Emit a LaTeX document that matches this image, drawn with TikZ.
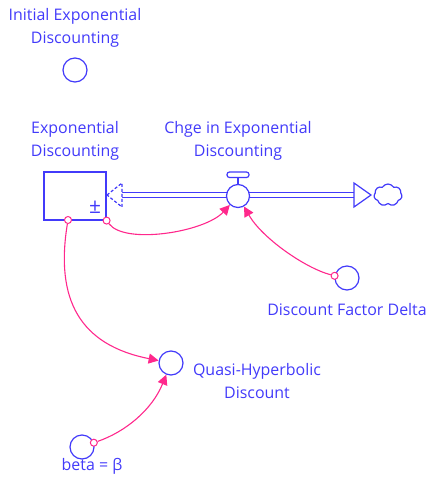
\documentclass[tikz,border=0pt]{standalone}
\usepackage{fontspec}
\setmainfont{Open Sans}
\usetikzlibrary{arrows.meta,shapes.symbols}
\definecolor{sfblue}{RGB}{66,58,250}
\definecolor{linkpink}{RGB}{255,40,140}
\begin{document}
\begin{tikzpicture}[x=1bp,y=-1bp,
  font=\fontsize{16}{23.5}\selectfont,
  aux/.style={circle, draw=sfblue, line width=1.2bp, minimum size=24bp, inner sep=0pt, fill=white},
  lbl/.style={text=sfblue, align=center, inner sep=0pt},
  dot/.style={circle, draw=linkpink, fill=white, line width=1bp, minimum size=7bp, inner sep=0pt},
  link/.style={draw=linkpink, line width=1.1bp, -{Triangle[length=10bp,width=10bp]}},
  pipe/.style={draw=sfblue, double=white, double distance=4.5bp, line width=1.2bp},
  flowtip/.style={draw=sfblue, line width=1.2bp, fill=white, line join=miter}
]
\useasboundingbox (0,0) rectangle (430,490);

% stock
\node[draw=sfblue, line width=1.2bp, minimum width=62bp, minimum height=48bp, inner sep=0pt] (stock) at (75,196) {};
\node[lbl, font=\fontsize{21}{21}\selectfont] (pm) at (95,207) {±};

% flow pipe with inflow tip into the stock and outflow to the cloud
\coordinate (pin) at (122,195);
\coordinate (pout) at (354,195);
\draw[pipe] (pin) -- (pout);
\draw[flowtip, dash pattern=on 3bp off 2bp] (107,195) -- (pin |- 0,183) -- (pin |- 0,207) -- cycle;
\draw[flowtip] (pout |- 0,183) -- (371,195) -- (pout |- 0,207) -- cycle;
\node[cloud, cloud puffs=7, cloud puff arc=120, aspect=1.25, draw=sfblue, line width=1.2bp,
      minimum width=28bp, minimum height=22bp, inner sep=0pt] (sink) at (388,195) {};

% valve
\node[aux, minimum size=23bp] (valve) at (238,196) {};
\draw[sfblue, line width=1.2bp, fill=white, rounded corners=2.5bp] (227,172) rectangle (249,177.5);
\draw[sfblue, line width=1.2bp] (valve.north) -- (238,177.5);

% auxiliaries
\node[aux] (init) at (75,70) {};
\node[aux] (delta) at (347,278) {};
\node[aux] (quasi) at (171,363) {};
\node[aux] (beta) at (82,447) {};

% labels
\node[lbl] (linit) at (75,28) {Initial Exponential\\Discounting};
\node[lbl] (lstock) at (75,141) {Exponential\\Discounting};
\node[lbl] (lvalve) at (238,141) {Chge in Exponential\\Discounting};
\node[lbl] (ldelta) at (347,310) {Discount Factor Delta};
\node[lbl] (lquasi) at (257,381) {Quasi-Hyperbolic\\Discount};
\node[lbl] (lbeta) at (92,466) {beta = β};

% link origins
\node[dot] (d1) at (stock.south east) {};
\node[dot] (d3) at (68,220) {};
\node[dot] (d2) at (delta.170) {};
\node[dot] (d4) at (beta.20) {};

% causal links
\draw[link] (d1) .. controls (125,245) and (205,232) .. (valve);
\draw[link] (d2) .. controls (305,268) and (262,238) .. (valve);
\draw[link] (d3) .. controls (55,300) and (80,345) .. (quasi);
\draw[link] (d4) .. controls (125,432) and (152,410) .. (quasi);
\end{tikzpicture}
\end{document}
